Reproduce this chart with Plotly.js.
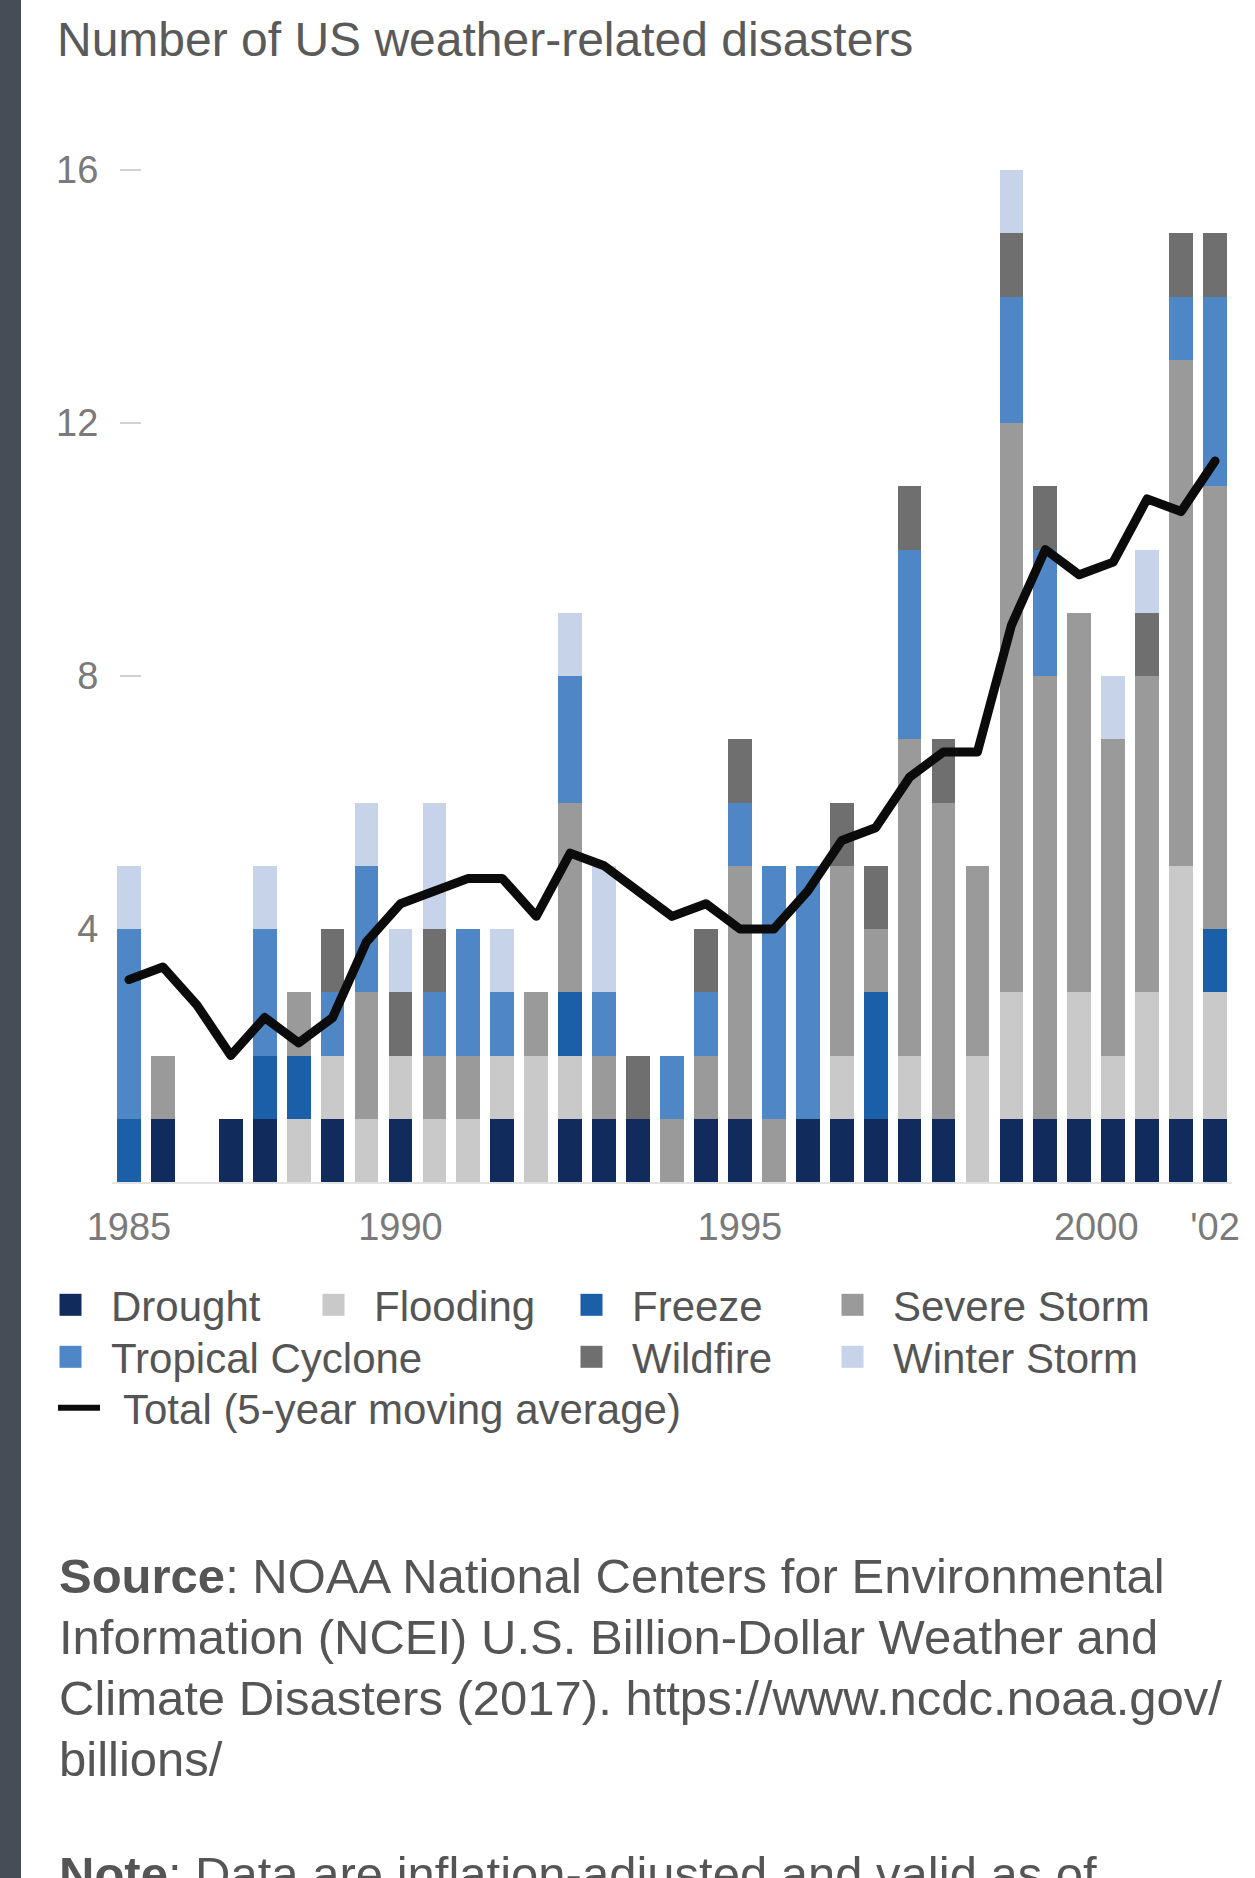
<!DOCTYPE html>
<html>
<head>
<meta charset="utf-8">
<script src="https://cdn.plot.ly/plotly-3.0.1.min.js"></script>
<style>
  html, body { margin: 0; padding: 0; background: #ffffff; }
  #chart { width: 1255px; height: 1878px; }
  .scatterlayer .js-line { stroke-linejoin: round; stroke-linecap: round; }
</style>
</head>
<body>
<div id="chart"></div>
<script>
// ---------------- data ----------------
const years = [1985,1986,1987,1988,1989,1990,1991,1992,1993,1994,1995,1996,1997,1998,1999,2000,
               2001,2002,2003,2004,2005,2006,2007,2008,2009,2010,2011,2012,2013,2014,2015,2016,2017];

const drought          = [0,1,0,1,1,0,1,0,1,0,0,1,0,1,1,1,0,1,1,0,1,1,1,1,1,0,1,1,1,1,1,1,1];
const flooding         = [0,0,0,0,0,1,1,1,1,1,1,1,2,1,0,0,0,0,0,0,0,1,0,1,0,2,2,0,2,1,2,4,2];
const freeze           = [1,0,0,0,1,1,0,0,0,0,0,0,0,1,0,0,0,0,0,0,0,0,2,0,0,0,0,0,0,0,0,0,1];
const severeStorm      = [0,1,0,0,0,1,0,2,0,1,1,0,1,3,1,0,1,1,4,1,0,3,1,5,5,3,9,7,6,5,5,8,7];
const tropicalCyclone  = [3,0,0,0,2,0,1,2,0,1,2,1,0,2,1,0,1,1,1,4,4,0,0,3,0,0,2,2,0,0,0,1,3];
const wildfire         = [0,0,0,0,0,0,1,0,1,1,0,0,0,0,0,1,0,1,1,0,0,1,1,1,1,0,1,1,0,0,1,1,1];
const winterStorm      = [1,0,0,0,1,0,0,1,1,2,0,1,0,1,2,0,0,0,0,0,0,0,0,0,0,0,1,0,0,1,1,0,0];

const movingAverage    = [3.2,3.4,2.8,2.0,2.6,2.2,2.6,3.8,4.4,4.6,4.8,4.8,4.2,5.2,5.0,4.6,
                          4.2,4.4,4.0,4.0,4.6,5.4,5.6,6.4,6.8,6.8,8.8,10.0,9.6,9.8,10.8,10.6,11.4];

const yTickVals  = [4, 8, 12, 16];
const xTickVals  = [1985, 1993, 2003, 2013.5, 2017];
const xTickText  = ['1985', '1990', '1995', '2000', "'02"];

const titleText  = 'Number of US weather-related disasters';
const sourceLines = [
  '<b>Source</b>: NOAA National Centers for Environmental',
  'Information (NCEI) U.S. Billion-Dollar Weather and',
  'Climate Disasters (2017). https://www.ncdc.noaa.gov/',
  'billions/'
];
const noteLine = '<b>Note</b>: Data are inflation-adjusted and valid as of';

// ---------------- geometry helpers ----------------
const W = 1255, H = 1878;
const ML = 112, MR = 23, MT = 150, MB = 696;
const PW = W - ML - MR, PH = H - MT - MB;
const pxX = x => (x - ML) / PW;           // pixel -> paper x
const pxY = y => (H - MB - y) / PH;       // pixel -> paper y
const cX = x => x / W;                    // pixel -> container x
const cY = y => 1 - y / H;                // pixel -> container y

const FONT = 'Liberation Sans, Arial, Helvetica, sans-serif';
const TEXT = '#555555';

// ---------------- traces ----------------
const series = [
  {name: 'Drought',          y: drought,         color: '#112b5c', legend: 'legend',  lx: 111, ly: 1305},
  {name: 'Flooding',         y: flooding,        color: '#c9c9c9', legend: 'legend2', lx: 374, ly: 1305},
  {name: 'Freeze',           y: freeze,          color: '#1a5fa8', legend: 'legend3', lx: 632, ly: 1305},
  {name: 'Severe Storm',     y: severeStorm,     color: '#9a9a9a', legend: 'legend4', lx: 893, ly: 1305},
  {name: 'Tropical Cyclone', y: tropicalCyclone, color: '#4f86c6', legend: 'legend5', lx: 111, ly: 1357},
  {name: 'Wildfire',         y: wildfire,        color: '#6f6f6f', legend: 'legend6', lx: 632, ly: 1357},
  {name: 'Winter Storm',     y: winterStorm,     color: '#c6d3e8', legend: 'legend7', lx: 893, ly: 1357}
];

const traces = series.map(s => ({
  type: 'bar',
  name: s.name,
  x: years,
  y: s.y,
  marker: {color: s.color, line: {width: 0}},
  legend: s.legend,
  hoverinfo: 'x+y+name'
}));

traces.push({
  type: 'scatter',
  mode: 'lines',
  name: 'Total (5-year moving average)',
  x: years,
  y: movingAverage,
  line: {color: '#0b0b0b', width: 9},
  legend: 'legend8'
});

// ---------------- legends ----------------
const IW = 71;
function makeLegend(textX, rowY, iw) {
  return {
    xref: 'container', yref: 'container',
    x: cX(textX - (iw + 10)), y: cY(rowY),
    xanchor: 'left', yanchor: 'middle',
    orientation: 'h',
    itemwidth: iw,
    bgcolor: 'rgba(0,0,0,0)',
    borderwidth: 0,
    itemclick: false, itemdoubleclick: false,
    font: {family: FONT, size: 42, color: TEXT}
  };
}

const layout = {
  width: W, height: H,
  margin: {l: ML, r: MR, t: MT, b: MB, pad: 0},
  paper_bgcolor: '#ffffff',
  plot_bgcolor: '#ffffff',
  font: {family: FONT, color: TEXT},
  barmode: 'stack',
  bargap: 0.3,
  showlegend: true,
  title: {
    text: titleText,
    xref: 'container', yref: 'container',
    x: cX(57), xanchor: 'left',
    y: cY(39), yanchor: 'middle',
    font: {family: FONT, size: 48, color: '#5a5a5a'}
  },
  xaxis: {
    range: [1984.5, 2017.5],
    tickmode: 'array', tickvals: xTickVals, ticktext: xTickText,
    ticks: '', showgrid: false, zeroline: false,
    showline: true, linecolor: '#e3e3e3', linewidth: 2,
    ticklabelstandoff: 10,
    tickfont: {family: FONT, size: 38, color: '#7a7a7a'},
    fixedrange: true
  },
  yaxis: {
    range: [0, (1182 - MT) / 63.25],
    anchor: 'free', position: pxX(141),
    tickmode: 'array', tickvals: yTickVals,
    ticks: 'outside', ticklen: 21, tickwidth: 2, tickcolor: '#d2d2d2',
    ticklabelstandoff: 14,
    showline: false, showgrid: false, zeroline: false,
    layer: 'below traces',
    tickfont: {family: FONT, size: 38, color: '#7a7a7a'},
    fixedrange: true
  },
  shapes: [{
    type: 'rect', xref: 'paper', yref: 'paper',
    x0: pxX(0), x1: pxX(21), y0: pxY(H), y1: pxY(0),
    fillcolor: '#464d56', line: {width: 0}, layer: 'above'
  }],
  annotations: []
};

series.forEach(s => {
  layout[s.legend] = makeLegend(s.lx, s.ly, IW);
});
layout.legend8 = makeLegend(123, 1408, 60);

const srcY = [1576, 1637, 1698, 1759];
sourceLines.forEach((t, i) => {
  layout.annotations.push({
    xref: 'paper', yref: 'paper',
    x: pxX(57), y: pxY(srcY[i]),
    xanchor: 'left', yanchor: 'middle',
    showarrow: false, align: 'left',
    text: t,
    font: {family: FONT, size: 49, color: '#555555'}
  });
});
layout.annotations.push({
  xref: 'paper', yref: 'paper',
  x: pxX(57), y: pxY(1874),
  xanchor: 'left', yanchor: 'middle',
  showarrow: false, align: 'left',
  text: noteLine,
  font: {family: FONT, size: 49, color: '#555555'}
});

// enlarge legend swatches and shorten the legend dash (visual styling only)
function styleLegendSymbols() {
  const root = document.getElementById('chart');
  root.querySelectorAll('g.legendpoints path').forEach(p => {
    const d = p.getAttribute('d') || '';
    if (/H-6V-6/.test(d)) p.setAttribute('d', 'M11,11H-11V-11H11Z');
  });
  root.querySelectorAll('g.legendlines path').forEach(p => {
    const d = p.getAttribute('d') || '';
    const m = d.match(/^M\s*([-\d.]+)[ ,]([-\d.]+)\s*h\s*([-\d.]+)\s*$/);
    if (m && +m[3] !== 42) p.setAttribute('d', 'M' + m[1] + ',' + m[2] + 'h42');
    p.style.strokeWidth = '6px';
  });
}

Plotly.newPlot('chart', traces, layout, {displayModeBar: false, responsive: false}).then(gd => {
  gd.on('plotly_afterplot', styleLegendSymbols);
  styleLegendSymbols();
  requestAnimationFrame(styleLegendSymbols);
  setTimeout(styleLegendSymbols, 50);
  setTimeout(styleLegendSymbols, 300);
});
</script>
</body>
</html>
